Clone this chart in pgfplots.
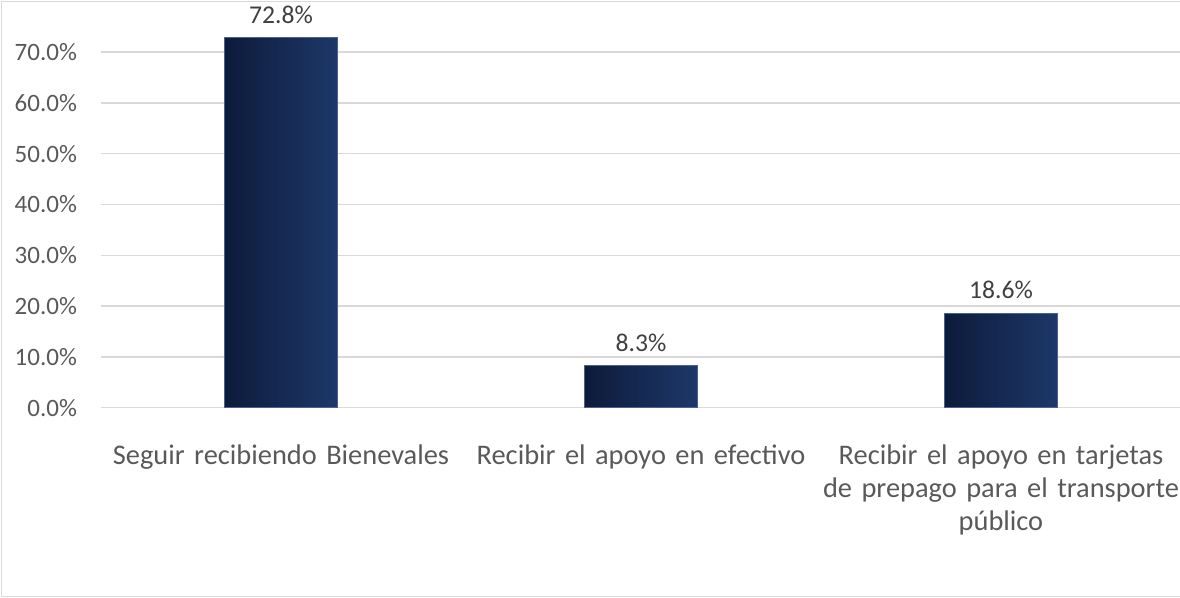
\documentclass[border=0pt]{standalone}
\usepackage{fontspec}
\setmainfont{Carlito}
\usepackage{pgfplots}
\pgfplotsset{compat=1.18}
\definecolor{gridc}{HTML}{D9D9D9}
\definecolor{txt}{HTML}{595959}
\definecolor{lbl}{HTML}{404040}
\definecolor{barL}{HTML}{0D1B3A}
\definecolor{barR}{HTML}{1D3869}
\definecolor{barE}{HTML}{4A6290}
\pgfplotsset{mybar/.style={ybar, bar width=56.5pt, bar shift=0pt, draw=barE, line width=0.4pt, left color=barL, right color=barR, mark=none,
  nodes near coords={\pgfmathprintnumber[fixed,fixed zerofill,precision=1]{\pgfplotspointmeta}\%},
  every node near coord/.append style={font=\fontsize{12.8pt}{15pt}\selectfont, text=lbl, yshift=3.5pt, /pgf/number format/assume math mode=true}}}
\begin{document}
\begin{tikzpicture}
\path[use as bounding box] (0,0) rectangle (590pt,299pt);
\draw[gridc, line width=0.8pt] (0.7pt,0.7pt) rectangle (600pt,298.3pt);
\begin{axis}[
  at={(50.5pt,95.15pt)}, anchor=south west,
  scale only axis, width=540pt, height=203.2pt,
  xmin=-0.5, xmax=2.5, ymin=0, ymax=80,
  xtick={0,1,2},
  xticklabels={Seguir recibiendo Bienevales, Recibir el apoyo en efectivo, Recibir el apoyo en tarjetas\\de prepago para el transporte\\público},
  ytick={0,10,20,30,40,50,60,70},
  yticklabel={\pgfmathprintnumber[fixed,fixed zerofill,precision=1]{\tick}\%},
  /pgf/number format/assume math mode=true,
  major tick length=0pt,
  axis line style={draw=none},
  ymajorgrids, grid style={gridc, line width=0.75pt},
  yticklabel style={font=\fontsize{12.5pt}{15pt}\selectfont, text=txt, xshift=-8.5pt},
  xticklabel style={font=\fontsize{14.2pt}{16.5pt}\selectfont, text=txt, text width=200pt, align=center, yshift=-15pt},
  clip=false,
]
\addplot[mybar] coordinates {(0,72.8)};
\addplot[mybar] coordinates {(1,8.3)};
\addplot[mybar] coordinates {(2,18.6)};
\end{axis}
\end{tikzpicture}
\end{document}
